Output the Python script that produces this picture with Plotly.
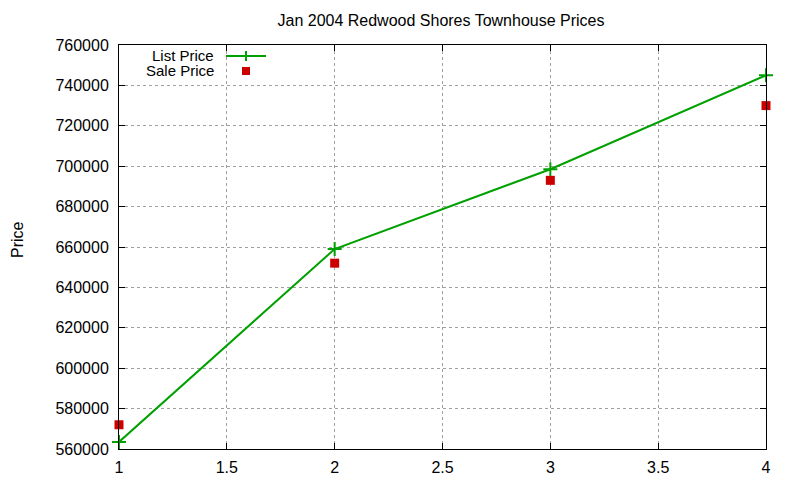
import plotly.graph_objects as go

x_vals = [1, 2, 3, 4]
list_price = [563500, 659000, 698500, 745000]
sale_price = [572000, 652000, 693000, 730000]
x_ticks = [1, 1.5, 2, 2.5, 3, 3.5, 4]
y_ticks = list(range(560000, 760001, 20000))

GREEN = "#00a000"
RED = "#cc0000"
FONT = "Liberation Sans, Arial, sans-serif"
FS = 16

fig = go.Figure()
fig.add_trace(go.Scatter(x=x_vals, y=list_price, mode="lines+markers", name="List Price",
                         line=dict(color=GREEN, width=2),
                         marker=dict(symbol="cross-thin", size=10, line=dict(color=GREEN, width=2)),
                         cliponaxis=False, showlegend=False))
fig.add_trace(go.Scatter(x=x_vals, y=sale_price, mode="markers", name="Sale Price",
                         marker=dict(symbol="square", size=9, color=RED),
                         cliponaxis=False, showlegend=False))

OFF = 8  # default page body margin
W, H = 800, 480
PL, PR, PT, PB = 119, 766, 45, 449  # absolute plot-area pixels on page
L, T = PL - OFF, PT - OFF
R, B = W - (PR - OFF), H - (PB - OFF)
pw, ph = PR - PL, PB - PT

def px(x):
    return (x - PL) / pw

def py(y):
    return (PB - y) / ph

tfont = dict(size=FS, color="black", family=FONT)
lfont = dict(size=15, color="black", family=FONT)
annotations = [
    dict(text="List Price", x=px(216), y=py(55.5), xref="paper", yref="paper",
         xanchor="right", yanchor="middle", showarrow=False, font=lfont),
    dict(text="Sale Price", x=px(216), y=py(71), xref="paper", yref="paper",
         xanchor="right", yanchor="middle", showarrow=False, font=lfont),
    dict(text="Price", x=px(17), y=py(240), xref="paper", yref="paper", textangle=-90,
         xanchor="center", yanchor="middle", showarrow=False, font=tfont),
]
shapes = [
    dict(type="line", xref="paper", yref="paper", x0=px(226), x1=px(266), y0=py(56), y1=py(56),
         line=dict(color=GREEN, width=2)),
    dict(type="line", xref="paper", yref="paper", x0=px(246), x1=px(246), y0=py(51), y1=py(61),
         line=dict(color=GREEN, width=2)),
    dict(type="rect", xref="paper", yref="paper", x0=px(242), x1=px(250), y0=py(75), y1=py(67),
         fillcolor=RED, line=dict(width=0)),
]

axis_common = dict(showline=True, linecolor="black", linewidth=1, mirror="ticks",
                   ticks="inside", ticklen=6, tickcolor="black",
                   showgrid=True, gridcolor="#a0a0a0", griddash="dot", gridwidth=1,
                   zeroline=False, tickfont=tfont)

fig.update_layout(
    width=W, height=H,
    margin=dict(l=L, r=R, t=T, b=B),
    paper_bgcolor="white", plot_bgcolor="white",
    title=dict(text="Jan 2004 Redwood Shores Townhouse Prices", x=(441 - OFF) / W, xanchor="center",
               y=1 - (20 - OFF) / H, yanchor="middle", font=tfont),
    xaxis=dict(range=[1, 4], tickvals=x_ticks, ticktext=[str(t) for t in x_ticks],
               ticklabelstandoff=4, **axis_common),
    yaxis=dict(range=[560000, 760000], tickvals=y_ticks, ticktext=[str(t) for t in y_ticks],
               ticklabelstandoff=6, **axis_common),
    annotations=annotations,
    shapes=shapes,
)

fig.write_html("out.html", config={"displayModeBar": False})
